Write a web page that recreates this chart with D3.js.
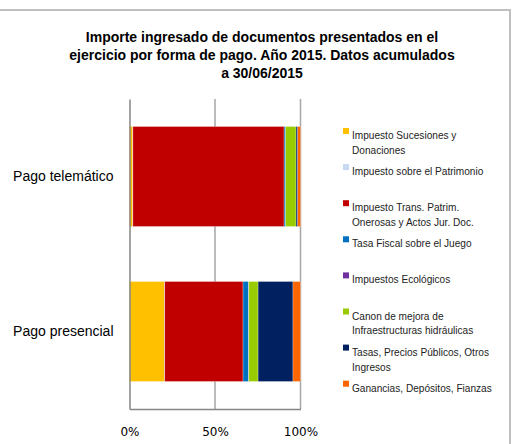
<!DOCTYPE html>
<html>
<head>
<meta charset="utf-8">
<script src="https://cdn.jsdelivr.net/npm/d3@7"></script>
<style>
  body { margin: 0; background: #fff; }
  svg { display: block; }
</style>
</head>
<body>
<div id="chart"></div>
<script>
var categories = ['Pago telemático', 'Pago presencial'];
var series = [
    'Impuesto Sucesiones y Donaciones',
    'Impuesto sobre el Patrimonio',
    'Impuesto Trans. Patrim. Onerosas y Actos Jur. Doc.',
    'Tasa Fiscal sobre el Juego',
    'Impuestos Ecológicos',
    'Canon de mejora de Infraestructuras hidráulicas',
    'Tasas, Precios Públicos, Otros Ingresos',
    'Ganancias, Depósitos, Fianzas'
];
// legend text as it wraps in the original
var legendLines = [
    ['Impuesto Sucesiones y', 'Donaciones'],
    ['Impuesto sobre el Patrimonio'],
    ['Impuesto Trans. Patrim.', 'Onerosas y Actos Jur. Doc.'],
    ['Tasa Fiscal sobre el Juego'],
    ['Impuestos Ecológicos'],
    ['Canon de mejora de', 'Infraestructuras hidráulicas'],
    ['Tasas, Precios Públicos, Otros', 'Ingresos'],
    ['Ganancias, Depósitos, Fianzas']
];
// percent of each payment form
var telematico = [1.9, 0.1, 88.4, 0.9, 0.0, 6.1, 1.0, 1.6];
var presencial = [20.4, 0.2, 45.8, 3.3, 0.1, 5.4, 20.4, 4.4];
var colors = ['#ffc000', '#c6d9f1', '#c00000', '#0070c0', '#7030a0', '#99cc00', '#002060', '#ff6600'];
var xTicks = [0, 50, 100];
var titleLines = [
    'Importe ingresado de documentos presentados en el',
    'ejercicio por forma de pago. Año 2015. Datos acumulados',
    'a 30/06/2015'
];

var width = 523, height = 444;

var svg = d3.select('#chart')
    .append('svg')
    .attr('width', width)
    .attr('height', height);

// frame
svg.append('path')
    .attr('d', 'M0,10H510V' + height)
    .attr('fill', 'none')
    .attr('stroke', '#bfbfbf')
    .attr('stroke-width', 2);

// title
svg.append('g')
    .selectAll('text')
    .data(titleLines)
    .enter()
    .append('text')
    .attr('x', 262)
    .attr('y', (d, i) => 42 + i * 18)
    .attr('text-anchor', 'middle')
    .style('font-family', 'Liberation Sans, Arial, sans-serif')
    .style('font-weight', 'bold')
    .style('font-size', '14px')
    .style('fill', '#000')
    .text(d => d);

var x = d3.scaleLinear()
    .domain([0, 100])
    .range([129.5, 300.5]);

var y = d3.scaleBand()
    .domain(categories)
    .range([99, 409])
    .paddingInner(0.355)
    .paddingOuter(0.1775);

// gridlines
svg.append('g')
    .selectAll('line')
    .data(xTicks.slice(1))
    .enter()
    .append('line')
    .attr('x1', d => x(d))
    .attr('x2', d => x(d))
    .attr('y1', 99)
    .attr('y2', 409)
    .style('stroke', '#a6a6a6')
    .style('stroke-width', 1.5);

// stacked bars
var rows = categories.map(function(c, i) {
    var row = { cat: c };
    var vals = i == 0 ? telematico : presencial;
    series.forEach((s, j) => row[s] = vals[j]);
    return row;
});
var stacked = d3.stack().keys(series)(rows);

svg.append('g')
    .selectAll('g')
    .data(stacked)
    .enter()
    .append('g')
    .attr('fill', (d, i) => colors[i])
    .selectAll('rect')
    .data(d => d)
    .enter()
    .append('rect')
    .attr('x', d => x(d[0]))
    .attr('y', d => y(d.data.cat))
    .attr('width', d => x(d[1]) - x(d[0]))
    .attr('height', y.bandwidth())
    .attr('stroke', 'rgba(255,255,255,0.45)')
    .attr('stroke-width', 0.6);

// axes
var xAxis = svg.append('g')
    .attr('transform', 'translate(0,409)')
    .call(d3.axisBottom(x).tickValues(xTicks).tickFormat(d => d + '%').tickSize(0).tickPadding(18));
xAxis.select('.domain').attr('stroke', '#868686').attr('stroke-width', 1.5);
xAxis.selectAll('text')
    .style('font-family', 'DejaVu Sans, Verdana, sans-serif')
    .style('font-size', '12px')
    .style('fill', '#000');

var yAxis = svg.append('g')
    .attr('transform', 'translate(129.5,0)')
    .call(d3.axisLeft(y).tickSize(0).tickPadding(16));
yAxis.select('.domain').attr('stroke', '#868686').attr('stroke-width', 1.5);
yAxis.selectAll('text')
    .style('font-family', 'Liberation Sans, Arial, sans-serif')
    .style('font-size', '14px')
    .style('fill', '#000');

// legend
var legend = svg.append('g')
    .selectAll('g')
    .data(legendLines)
    .enter()
    .append('g')
    .attr('transform', (d, i) => 'translate(343,' + (135 + i * 36.1) + ')');

legend.append('rect')
    .attr('x', 0)
    .attr('y', -7)
    .attr('width', 6)
    .attr('height', 6)
    .attr('fill', (d, i) => colors[i]);

legend.append('g')
    .attr('transform', 'translate(9,0) scale(0.92,1)')
    .selectAll('text')
    .data(d => d)
    .enter()
    .append('text')
    .attr('x', 0)
    .attr('y', (d, i) => i * 15 + 4)
    .style('font-family', 'Liberation Sans, Arial, sans-serif')
    .style('font-size', '11px')
    .style('fill', '#222')
    .text(d => d);
</script>
</body>
</html>
